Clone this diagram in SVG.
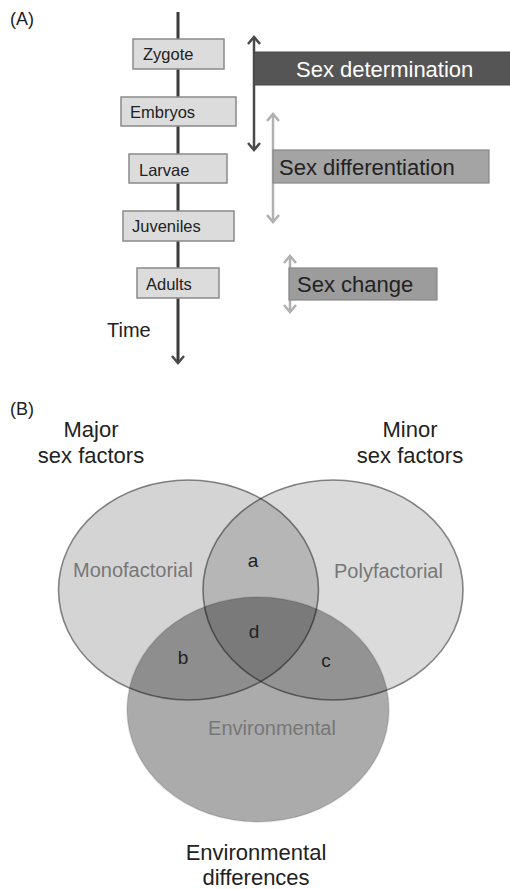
<svg xmlns="http://www.w3.org/2000/svg" width="510" height="889" viewBox="0 0 510 889">
  <style>
    text { font-family: "Liberation Sans", Arial, sans-serif; }
    .stage rect { fill: #dcdcdc; stroke: #8a8a8a; stroke-width: 1.5; }
    .stage text { font-size: 16.5px; fill: #222; }
    .lbl { font-size: 18px; fill: #222; }
    .big { font-size: 22px; fill: #222; }
    .inner { font-size: 20px; fill: #777; }
    .letter { font-size: 19px; fill: #222; text-anchor: middle; }
    .ring { stroke-width: 1.6; }
  </style>
  <defs>
    <marker id="headDark" markerWidth="14" markerHeight="14" refX="10" refY="7" orient="auto-start-reverse" markerUnits="userSpaceOnUse">
      <path d="M3,1 L10,7 L3,13" fill="none" stroke="#4a4a4a" stroke-width="2.5"/>
    </marker>
    <marker id="headLight" markerWidth="14" markerHeight="14" refX="10" refY="7" orient="auto-start-reverse" markerUnits="userSpaceOnUse">
      <path d="M3,1 L10,7 L3,13" fill="none" stroke="#b0b0b0" stroke-width="2.5"/>
    </marker>
  </defs>

  <rect width="510" height="889" fill="#fff"/>

  <!-- panel A -->
  <text class="lbl" x="10" y="25">(A)</text>

  <g id="connectors">
    <line x1="178" y1="12" x2="178" y2="363" stroke="#3a3a3a" stroke-width="3" marker-end="url(#headDark)"/>
    <line x1="254" y1="37" x2="254" y2="150" stroke="#4a4a4a" stroke-width="2.5" marker-start="url(#headDark)" marker-end="url(#headDark)"/>
    <line x1="273" y1="114" x2="273" y2="222" stroke="#b0b0b0" stroke-width="2.5" marker-start="url(#headLight)" marker-end="url(#headLight)"/>
    <line x1="290" y1="256" x2="290" y2="312" stroke="#b0b0b0" stroke-width="2.5" marker-start="url(#headLight)" marker-end="url(#headLight)"/>
  </g>

  <g id="zygote" class="stage">
    <rect x="133" y="39" width="91" height="30"/>
    <text x="143" y="60">Zygote</text>
  </g>
  <g id="embryos" class="stage">
    <rect x="121" y="97" width="115" height="29"/>
    <text x="130" y="118">Embryos</text>
  </g>
  <g id="larvae" class="stage">
    <rect x="129" y="154" width="98" height="29"/>
    <text x="139" y="176">Larvae</text>
  </g>
  <g id="juveniles" class="stage">
    <rect x="123" y="211" width="111" height="30"/>
    <text x="132" y="232">Juveniles</text>
  </g>
  <g id="adults" class="stage">
    <rect x="137" y="268" width="82" height="30"/>
    <text x="146" y="290">Adults</text>
  </g>

  <g id="sex-determination">
    <rect x="254" y="52" width="260" height="33" fill="#555" stroke="#444" stroke-width="1"/>
    <text x="296" y="77" font-size="22" fill="#fff">Sex determination</text>
  </g>
  <g id="sex-differentiation">
    <rect x="273" y="150" width="216" height="33" fill="#a4a4a4" stroke="#888" stroke-width="1.2"/>
    <text x="279" y="175" font-size="22" fill="#222">Sex differentiation</text>
  </g>
  <g id="sex-change">
    <rect x="289" y="268" width="148" height="32" fill="#9c9c9c" stroke="#888" stroke-width="1.2"/>
    <text x="297" y="292" font-size="22" fill="#222">Sex change</text>
  </g>

  <text x="107" y="337" font-size="20" fill="#222">Time</text>

  <!-- panel B -->
  <text class="lbl" x="10" y="415">(B)</text>

  <text class="big" x="91" y="437" text-anchor="middle">Major</text>
  <text class="big" x="91" y="463" text-anchor="middle">sex factors</text>
  <text class="big" x="410" y="437" text-anchor="middle">Minor</text>
  <text class="big" x="410" y="463" text-anchor="middle">sex factors</text>

  <g id="major">
    <ellipse class="ring" cx="188.5" cy="590" rx="130" ry="110" fill="#000" fill-opacity="0.17" stroke="#000" stroke-opacity="0.45"/>
  </g>
  <g id="minor">
    <ellipse class="ring" cx="333" cy="590" rx="130" ry="110" fill="#000" fill-opacity="0.14" stroke="#000" stroke-opacity="0.45"/>
  </g>
  <g id="environment">
    <ellipse class="ring" cx="258" cy="709.5" rx="131" ry="112.5" fill="#000" fill-opacity="0.33" stroke="#000" stroke-opacity="0.12"/>
  </g>

  <text class="inner" x="73" y="577">Monofactorial</text>
  <text class="inner" x="334" y="578">Polyfactorial</text>
  <text class="inner" x="272" y="735" text-anchor="middle">Environmental</text>

  <text class="letter" x="253" y="567">a</text>
  <text class="letter" x="183" y="664">b</text>
  <text class="letter" x="326" y="667">c</text>
  <text class="letter" x="254" y="638">d</text>

  <text class="big" x="256" y="860" text-anchor="middle">Environmental</text>
  <text class="big" x="256" y="885" text-anchor="middle">differences</text>
</svg>
